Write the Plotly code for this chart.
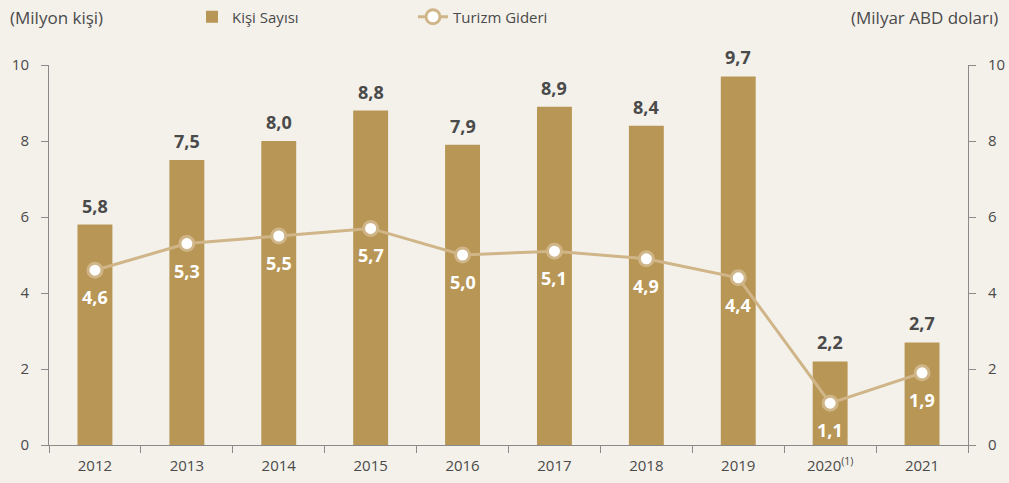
import plotly.graph_objects as go

# Yıllık ziyaretçi sayısı ve turizm gideri
years = ["2012", "2013", "2014", "2015", "2016", "2017", "2018", "2019",
         "2020<sup>(1)</sup>", "2021"]
kisi_sayisi = [5.8, 7.5, 8.0, 8.8, 7.9, 8.9, 8.4, 9.7, 2.2, 2.7]
turizm_gideri = [4.6, 5.3, 5.5, 5.7, 5.0, 5.1, 4.9, 4.4, 1.1, 1.9]
y_ticks = [0, 2, 4, 6, 8, 10]


def tr_fmt(v):
    return f"{v:.1f}".replace(".", ",")


BG = "#f4f1eb"
BAR = "#b89655"
LINE = "#cfb587"
AXIS = "#8a8a8a"
TXT = "#4a4a4a"
FONT = "Open Sans"

fig = go.Figure()

fig.add_trace(go.Bar(
    x=years, y=kisi_sayisi, name="Kişi Sayısı",
    marker=dict(color=BAR, line=dict(width=0)),
    width=0.38,
    hoverinfo="skip",
))

fig.add_trace(go.Scatter(
    x=years, y=turizm_gideri, name="Turizm Gideri", yaxis="y2",
    mode="lines+markers",
    line=dict(color=LINE, width=3),
    marker=dict(size=14, color="white", line=dict(color=LINE, width=3)),
    cliponaxis=False,
    hoverinfo="skip",
))

# Değer etiketleri: sütunların üstünde koyu, çizgi noktalarının altında beyaz
# (kategori ekseninde konum olarak kategori sırası kullanılır)
annotations = []
for i, v in enumerate(kisi_sayisi):
    annotations.append(dict(
        x=i, y=v, xref="x", yref="y", text=tr_fmt(v), showarrow=False,
        yanchor="middle", yshift=19,
        font=dict(family=FONT, size=18, color=TXT, weight="bold"),
    ))
for i, v in enumerate(turizm_gideri):
    annotations.append(dict(
        x=i, y=v, xref="x", yref="y2", text=tr_fmt(v), showarrow=False,
        yanchor="middle", yshift=-27,
        font=dict(family=FONT, size=18, color="white", weight="bold"),
    ))

title_y = 1 + (65 - 17) / 380
annotations += [
    dict(text="(Milyon kişi)", xref="paper", yref="paper",
         x=-41 / 919, y=title_y, xanchor="left", yanchor="middle",
         showarrow=False, font=dict(family=FONT, size=17, color=TXT)),
    dict(text="(Milyar ABD doları)", xref="paper", yref="paper",
         x=1 + 32 / 919, y=title_y, xanchor="right", yanchor="middle",
         showarrow=False, font=dict(family=FONT, size=17, color=TXT)),
]

yaxis_common = dict(
    range=[0, 10], tickvals=y_ticks, showgrid=False, zeroline=False,
    showline=True, linecolor=AXIS, linewidth=1,
    ticks="outside", ticklen=7, tickcolor=AXIS, ticklabelstandoff=9,
    tickfont=dict(family=FONT, size=15, color=TXT),
)

fig.update_layout(
    width=1009, height=483,
    margin=dict(l=49, r=41, t=65, b=38, autoexpand=False),
    paper_bgcolor=BG, plot_bgcolor=BG,
    font=dict(family=FONT, color=TXT),
    xaxis=dict(
        type="category", categoryorder="array", categoryarray=years,
        range=[-0.5, len(years) - 0.5],
        showgrid=False, zeroline=False,
        showline=True, linecolor=AXIS, linewidth=1,
        ticks="outside", tickson="boundaries", ticklen=7, tickcolor=AXIS,
        ticklabelstandoff=7,
        tickfont=dict(family=FONT, size=15, color=TXT),
    ),
    yaxis=dict(**yaxis_common, side="left"),
    yaxis2=dict(**yaxis_common, side="right", overlaying="y"),
    showlegend=True,
    legend=dict(
        orientation="h", x=(192 - 49) / 919, xanchor="left",
        y=title_y, yanchor="middle",
        font=dict(family=FONT, size=15, color=TXT),
        bgcolor="rgba(0,0,0,0)",
        entrywidth=176, entrywidthmode="pixels",
    ),
    annotations=annotations,
)

fig.write_html("out.html")
